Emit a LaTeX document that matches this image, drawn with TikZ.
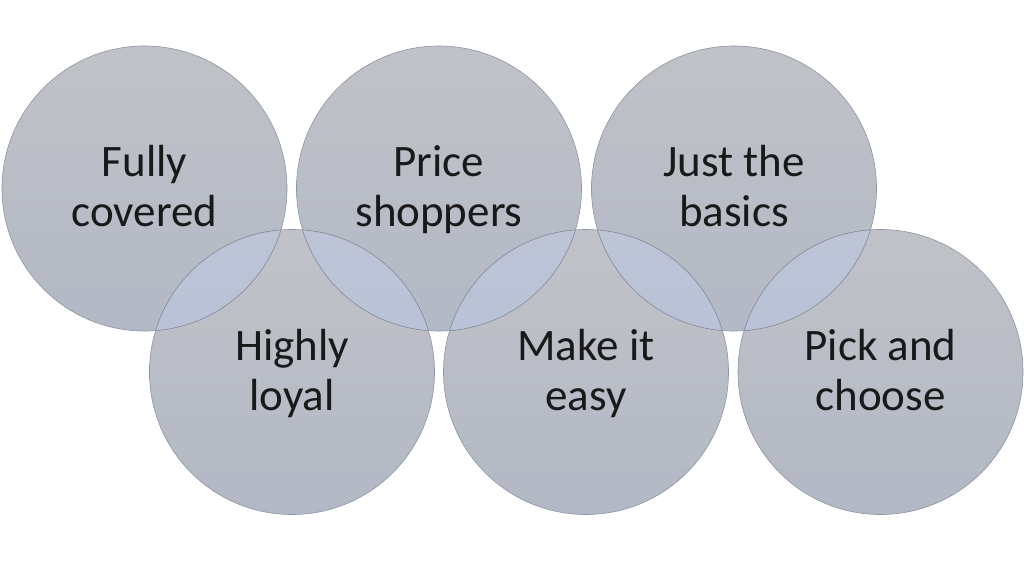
\documentclass[tikz,border=0pt]{standalone}
\usepackage{fontspec}
\setmainfont{Carlito}
\newcommand\twolines[2]{\rule{0pt}{41pt}#1\\#2\strut}
\begin{document}
\begin{tikzpicture}[x=1pt,y=-1pt,
  bub/.style={circle,minimum size=285pt,inner sep=0pt,top color=cTop,bottom color=cBot,
    font=\fontsize{45}{50}\selectfont,align=center,text=black!90},
  rim/.style={draw=cRim,line width=0.6pt}]
\definecolor{cTop}{RGB}{193,194,199}
\definecolor{cBot}{RGB}{178,184,197}
\definecolor{cOvT}{RGB}{189,196,214}
\definecolor{cOvB}{RGB}{177,189,213}
\definecolor{cRim}{RGB}{140,148,165}
\useasboundingbox (0,0) rectangle (1024,561);
\def\R{142.5}
\node[bub] (c1) at (144.5,188.5) {\twolines{Fully}{covered}};
\node[bub] (c2) at (439,188.5) {\twolines{Price}{shoppers}};
\node[bub] (c3) at (734,188.5) {\twolines{Just the}{basics}};
\node[bub] (c4) at (292,372) {\twolines{Highly}{loyal}};
\node[bub] (c5) at (586,372) {\twolines{Make it}{easy}};
\node[bub] (c6) at (880.5,372) {\twolines{Pick and}{choose}};
% overlaps
\foreach \a/\b in {c1/c4,c2/c4,c2/c5,c3/c5,c3/c6}{
  \begin{scope}
    \clip (\a.center) circle[radius=\R];
    \fill[top color=cOvT,bottom color=cOvB] (\b.center) circle[radius=\R];
  \end{scope}
}
\foreach \c in {c1,c2,c3,c4,c5,c6}{
  \draw[rim] (\c.center) circle[radius=\R];
}
\end{tikzpicture}
\end{document}
